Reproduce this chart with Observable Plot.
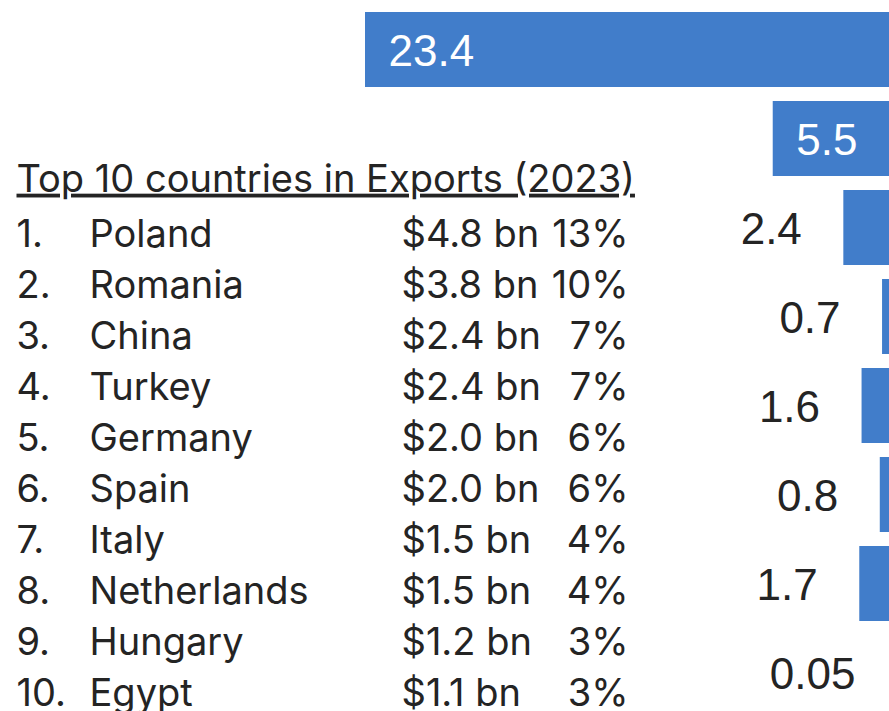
<!DOCTYPE html>
<html>
<head>
<meta charset="utf-8">
<script src="https://cdn.jsdelivr.net/npm/d3@7"></script>
<script src="https://cdn.jsdelivr.net/npm/@observablehq/plot@0.6"></script>
<style>
  html, body { margin: 0; padding: 0; background: #fff; overflow: hidden; }
  #wrap { position: relative; width: 889px; height: 711px; overflow: hidden; }
  #wrap svg { position: absolute; left: 0; top: 0; }
</style>
</head>
<body>
<div id="wrap"></div>
<script>
// ---- data ----
const barIds = ["b1", "b2", "b3", "b4", "b5", "b6", "b7", "b8"];
const barValues = [23.4, 5.5, 2.4, 0.7, 1.6, 0.8, 1.7, 0.05];
const barLabels = ["23.4", "5.5", "2.4", "0.7", "1.6", "0.8", "1.7", "0.05"];

const tableTitle = "Top 10 countries in Exports (2023)";
const ranks = ["1.", "2.", "3.", "4.", "5.", "6.", "7.", "8.", "9.", "10."];
const countries = ["Poland", "Romania", "China", "Turkey", "Germany", "Spain", "Italy", "Netherlands", "Hungary", "Egypt"];
const exportValues = ["$4.8 bn", "$3.8 bn", "$2.4 bn", "$2.4 bn", "$2.0 bn", "$2.0 bn", "$1.5 bn", "$1.5 bn", "$1.2 bn", "$1.1 bn"];
const shares = ["13%", "10%", "7%", "7%", "6%", "6%", "4%", "4%", "3%", "3%"];

// ---- build tables ----
const bars = barIds.map((id, i) => ({ id, value: barValues[i], label: barLabels[i] }));
const inside = bars.filter(d => d.value >= 5);
const outside = bars.filter(d => d.value < 5);
const rows = ranks.map((r, i) => ({ row: i + 1, rank: r, country: countries[i], value: exportValues[i], share: shares[i] }));

const BLUE = "#417dca";
const INK = "#242424";
const labelFont = "'Liberation Sans', Arial, Helvetica, sans-serif";
const tableFont = "Inter, 'Liberation Sans', sans-serif";
const TS = 38;

const chart = Plot.plot({
  width: 889,
  height: 711,
  margin: 0,
  style: { background: "transparent", fontFamily: labelFont },
  x: { domain: [0, d3.max(barValues)], range: [898, 365], axis: null },
  y: { type: "band", domain: barIds, range: [4, 718.5], paddingInner: 0.155, paddingOuter: 0.0775, axis: null },
  marks: [
    Plot.barX(bars, { x: "value", y: "id", fill: BLUE }),
    Plot.text(inside, { x: "value", y: "id", text: "label", textAnchor: "start", dx: 23, dy: 2, fill: "white", fontSize: 44, fontFamily: labelFont }),
    Plot.text(outside, { x: "value", y: "id", text: "label", textAnchor: "end", dx: -42, dy: 2, fill: INK, fontSize: 44, fontFamily: labelFont })
  ]
});

const table = Plot.plot({
  width: 889,
  height: 711,
  margin: 0,
  style: { background: "transparent", fontFamily: tableFont },
  y: { type: "point", domain: d3.range(0, 11), range: [182.8, 694], padding: 0, axis: null },
  marks: [
    Plot.text([tableTitle], { y: () => 0, text: d => d, frameAnchor: "left", textAnchor: "start", dx: 16, dy: -4, fill: INK, fontSize: TS, fontFamily: tableFont }),
    Plot.text(rows, { y: "row", text: "rank", frameAnchor: "left", textAnchor: "start", dx: 16, fill: INK, fontSize: TS, fontFamily: tableFont }),
    Plot.text(rows, { y: "row", text: "country", frameAnchor: "left", textAnchor: "start", dx: 89, fill: INK, fontSize: TS, fontFamily: tableFont }),
    Plot.text(rows, { y: "row", text: "value", frameAnchor: "left", textAnchor: "start", dx: 401, fill: INK, fontSize: TS, fontFamily: tableFont }),
    Plot.text(rows, { y: "row", text: "share", frameAnchor: "left", textAnchor: "end", dx: 628, fill: INK, fontSize: TS, fontFamily: tableFont })
  ]
});

// underline the table title
d3.select(table).selectAll("text")
  .filter(function () { return this.textContent === tableTitle; })
  .style("text-decoration", "underline")
  .style("text-decoration-thickness", "2px");

const wrap = document.getElementById("wrap");
wrap.appendChild(chart);
wrap.appendChild(table);
</script>
</body>
</html>
